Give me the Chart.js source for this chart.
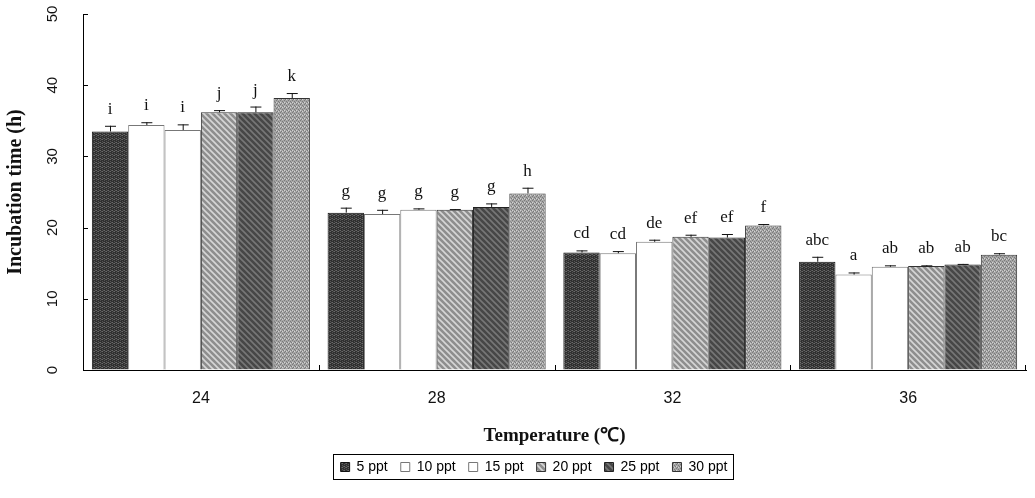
<!DOCTYPE html>
<html>
<head>
<meta charset="utf-8">
<script src="https://cdn.jsdelivr.net/npm/chart.js@4.4.0/dist/chart.umd.min.js"></script>
<style>
  html, body { margin: 0; padding: 0; background: #fff; }
</style>
</head>
<body>
<canvas id="incubChart" width="1035" height="498"></canvas>
<script>
// temperature groups and salinity series
const temperatures = ['24', '28', '32', '36'];
const salinities = ['5 ppt', '10 ppt', '15 ppt', '20 ppt', '25 ppt', '30 ppt'];

// mean incubation time (h)
const ppt5  = [33.5, 22.1, 16.5, 15.2];
const ppt10 = [34.4, 21.9, 16.4, 13.4];
const ppt15 = [33.7, 22.5, 18.0, 14.5];
const ppt20 = [36.2, 22.5, 18.7, 14.6];
const ppt25 = [36.2, 22.9, 18.6, 14.8];
const ppt30 = [38.2, 24.8, 20.3, 16.2];

// standard error (h)
const err5  = [0.8, 0.7, 0.3, 0.7];
const err10 = [0.4, 0.6, 0.3, 0.3];
const err15 = [0.8, 0.2, 0.3, 0.2];
const err20 = [0.3, 0.1, 0.3, 0.1];
const err25 = [0.8, 0.5, 0.5, 0.1];
const err30 = [0.7, 0.8, 0.2, 0.2];

// significance letters
const let5  = ['i', 'g', 'cd', 'abc'];
const let10 = ['i', 'g', 'cd', 'a'];
const let15 = ['i', 'g', 'de', 'ab'];
const let20 = ['j', 'g', 'ef', 'ab'];
const let25 = ['j', 'g', 'ef', 'ab'];
const let30 = ['k', 'h', 'f', 'bc'];

const yTicks = [0, 10, 20, 30, 40, 50];

// little tiles so the bars look like the printed halftones
function speckle(base, dot, light) {
    const c = document.createElement('canvas');
    c.width = 4; c.height = 4;
    const g = c.getContext('2d');
    g.fillStyle = base; g.fillRect(0, 0, 4, 4);
    g.fillStyle = dot;
    [[0, 0], [2, 1], [1, 3], [3, 2]].forEach(p => g.fillRect(p[0], p[1], 1, 1));
    g.fillStyle = light;
    [[2, 3], [0, 2]].forEach(p => g.fillRect(p[0], p[1], 1, 1));
    return g.createPattern(c, 'repeat');
}

function hatch(base, line) {
    const c = document.createElement('canvas');
    c.width = 6; c.height = 6;
    const g = c.getContext('2d');
    g.fillStyle = base; g.fillRect(0, 0, 6, 6);
    g.strokeStyle = line; g.lineWidth = 1.6;
    g.beginPath();
    g.moveTo(-1, -1); g.lineTo(7, 7);
    g.moveTo(-1, 5); g.lineTo(1, 7);
    g.moveTo(5, -1); g.lineTo(7, 1);
    g.stroke();
    return g.createPattern(c, 'repeat');
}

const fills = [
    speckle('#303030', '#555555', '#6a6a6a'),
    '#ffffff',
    '#ffffff',
    hatch('#8e8e8e', '#d6d6d6'),
    hatch('#474747', '#777777'),
    speckle('#a6a6a6', '#7a7a7a', '#d2d2d2')
];
const edges = ['#111', '#777', '#777', '#333', '#222', '#333'];

const seriesValues = [ppt5, ppt10, ppt15, ppt20, ppt25, ppt30];
const seriesErrors = [err5, err10, err15, err20, err25, err30];
const seriesLetters = [let5, let10, let15, let20, let25, let30];

const datasets = salinities.map((name, i) => ({
    label: name,
    data: seriesValues[i],
    errors: seriesErrors[i],
    letters: seriesLetters[i],
    backgroundColor: fills[i],
    borderColor: edges[i],
    borderWidth: 1,
    borderSkipped: 'bottom',
    categoryPercentage: 0.925,
    barPercentage: 1.0
}));

// error bars, letters, inward ticks and the legend frame
const decorations = {
    id: 'decorations',
    afterLayout(chart) {
        // the printed legend sits a little right of centre
        chart.legend.left += 21;
        chart.legend.right += 21;
    },
    afterDatasetsDraw(chart) {
        const ctx = chart.ctx;
        const y = chart.scales.y;
        ctx.save();
        chart.data.datasets.forEach((ds, di) => {
            const meta = chart.getDatasetMeta(di);
            meta.data.forEach((bar, i) => {
                const top = y.getPixelForValue(ds.data[i] + ds.errors[i]);
                ctx.strokeStyle = '#111';
                ctx.lineWidth = 1;
                ctx.beginPath();
                ctx.moveTo(bar.x + 0.5, bar.y);
                ctx.lineTo(bar.x + 0.5, top);
                ctx.moveTo(bar.x - 5, top + 0.5);
                ctx.lineTo(bar.x + 6, top + 0.5);
                ctx.stroke();
                ctx.fillStyle = '#111';
                ctx.font = '17px "Liberation Serif"';
                ctx.textAlign = 'center';
                ctx.textBaseline = 'alphabetic';
                ctx.fillText(ds.letters[i], bar.x, top - 12);
            });
        });
        ctx.restore();
    },
    afterDraw(chart) {
        const ctx = chart.ctx;
        const x = chart.scales.x;
        const y = chart.scales.y;
        const area = chart.chartArea;
        ctx.save();
        ctx.strokeStyle = '#000';
        ctx.lineWidth = 1;
        ctx.beginPath();
        yTicks.forEach(v => {
            const py = Math.round(y.getPixelForValue(v)) + 0.5;
            ctx.moveTo(area.left, py);
            ctx.lineTo(area.left + 5, py);
        });
        for (let i = 0; i < temperatures.length; i++) {
            const px = i < temperatures.length - 1
                ? (x.getPixelForValue(i) + x.getPixelForValue(i + 1)) / 2
                : area.right - 1;
            ctx.moveTo(Math.round(px) + 0.5, area.bottom);
            ctx.lineTo(Math.round(px) + 0.5, area.bottom - 5);
        }
        ctx.stroke();

        const boxes = chart.legend.legendHitBoxes;
        if (boxes && boxes.length) {
            const first = boxes[0];
            const last = boxes[boxes.length - 1];
            const l = Math.round(first.left - 8) + 0.5;
            const r = Math.round(last.left + last.width + 6) + 0.5;
            const t = Math.round(first.top - 6) + 0.5;
            const b = Math.round(first.top + first.height + 5) + 0.5;
            ctx.strokeRect(l, t, r - l, b - t);
        }
        ctx.restore();
    }
};

const ctx = document.getElementById('incubChart').getContext('2d');
const incubChart = new Chart(ctx, {
    type: 'bar',
    data: { labels: temperatures, datasets: datasets },
    options: {
        responsive: false,
        animation: false,
        devicePixelRatio: 1,
        layout: { padding: { top: 14, right: 9, bottom: 14, left: 0 } },
        plugins: {
            tooltip: { enabled: false },
            legend: {
                position: 'bottom',
                labels: {
                    color: '#000',
                    font: { family: '"Liberation Sans"', size: 14 },
                    boxWidth: 9,
                    boxHeight: 9,
                    padding: 13
                }
            }
        },
        scales: {
            x: {
                grid: { display: false },
                border: { color: '#000', width: 1 },
                ticks: {
                    color: '#111',
                    font: { family: '"Liberation Sans"', size: 16 },
                    padding: 11
                },
                title: {
                    display: true,
                    text: 'Temperature (℃)',
                    color: '#111',
                    font: { family: '"Liberation Serif"', size: 19, weight: 'bold' },
                    padding: { top: 5, bottom: 0 }
                }
            },
            y: {
                min: 0,
                max: 50,
                grid: { drawOnChartArea: false, drawTicks: false },
                border: { color: '#000', width: 1 },
                ticks: {
                    stepSize: 10,
                    color: '#111',
                    font: { family: '"Liberation Sans"', size: 15 },
                    minRotation: 90,
                    maxRotation: 90,
                    crossAlign: 'center',
                    padding: 22
                },
                title: {
                    display: true,
                    text: 'Incubation time (h)',
                    color: '#111',
                    font: { family: '"Liberation Serif"', size: 20, weight: 'bold' },
                    padding: { top: 4, bottom: 0 }
                },
                afterFit(scale) {
                    scale.width = 83;
                    scale.paddingTop = 0;
                    scale.paddingBottom = 0;
                }
            }
        }
    },
    plugins: [decorations]
});
</script>
</body>
</html>
